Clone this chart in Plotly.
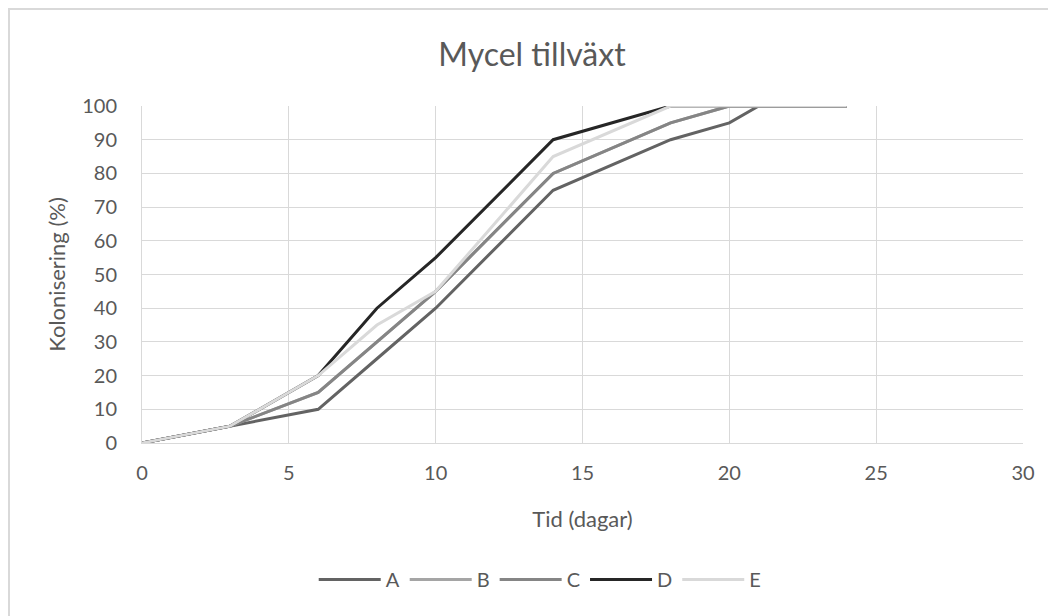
import plotly.graph_objects as go

days = [0, 3, 6, 8, 10, 14, 18, 20, 21, 24]
series_names = ["A", "B", "C", "D", "E"]
A = [0, 5, 10, 25, 40, 75, 90, 95, 100, 100]
B = [0, 5, 15, 30, 45, 80, 95, 100, 100, 100]
C = [0, 5, 15, 30, 45, 80, 95, 100, 100, 100]
D = [0, 5, 20, 40, 55, 90, 100, 100, 100, 100]
E = [0, 5, 20, 35, 45, 85, 100, 100, 100, 100]
colors = ["#636363", "#A5A5A5", "#858585", "#262626", "#D9D9D9"]

x_ticks = [0, 5, 10, 15, 20, 25, 30]
y_ticks = [0, 10, 20, 30, 40, 50, 60, 70, 80, 90, 100]

FONT = "Lato, 'Open Sans', sans-serif"
TXT = "#595959"

fig = go.Figure()
for name, vals, col in zip(series_names, [A, B, C, D, E], colors):
    fig.add_trace(go.Scatter(x=days, y=vals, mode="lines", name=name,
                             line=dict(color=col, width=3)))

fig.update_layout(
    width=1048, height=608,
    paper_bgcolor="white", plot_bgcolor="white",
    margin=dict(l=134, r=33, t=98, b=173),
    font=dict(family=FONT, color=TXT, size=20),
    title=dict(text="Mycel tillväxt", x=0.5, xanchor="center",
               y=0.923, yanchor="middle",
               font=dict(family=FONT, size=32, color=TXT)),
    showlegend=True,
    legend=dict(orientation="h", x=0.452, xanchor="center", y=-0.405, yanchor="middle",
                font=dict(family=FONT, size=20, color=TXT), itemwidth=62),
    xaxis=dict(range=[0, 30], tickvals=x_ticks, showgrid=True, gridcolor="#D9D9D9",
               gridwidth=1, zeroline=False, showline=True, linecolor="#D9D9D9",
               linewidth=1, ticks="", ticklabelstandoff=12,
               title=dict(text="Tid (dagar)", standoff=28,
                          font=dict(family=FONT, size=22, color=TXT)),
               tickfont=dict(family=FONT, size=20, color=TXT)),
    yaxis=dict(range=[0, 100], tickvals=y_ticks, showgrid=True, gridcolor="#D9D9D9",
               gridwidth=1, zeroline=False, showline=True, linecolor="#D9D9D9",
               linewidth=1, ticks="", ticklabelstandoff=20,
               title=dict(text="Kolonisering (%)", standoff=10,
                          font=dict(family=FONT, size=22, color=TXT)),
               tickfont=dict(family=FONT, size=20, color=TXT)),
)

# chart-area border (top and left edges visible in reference)
fig.add_shape(type="rect", xref="paper", yref="paper",
              x0=(1 - 134) / 881, x1=1.1, y0=-0.6, y1=(435 - 1) / 337,
              line=dict(color="#D9D9D9", width=2), layer="below")

fig.write_html("out.html")
